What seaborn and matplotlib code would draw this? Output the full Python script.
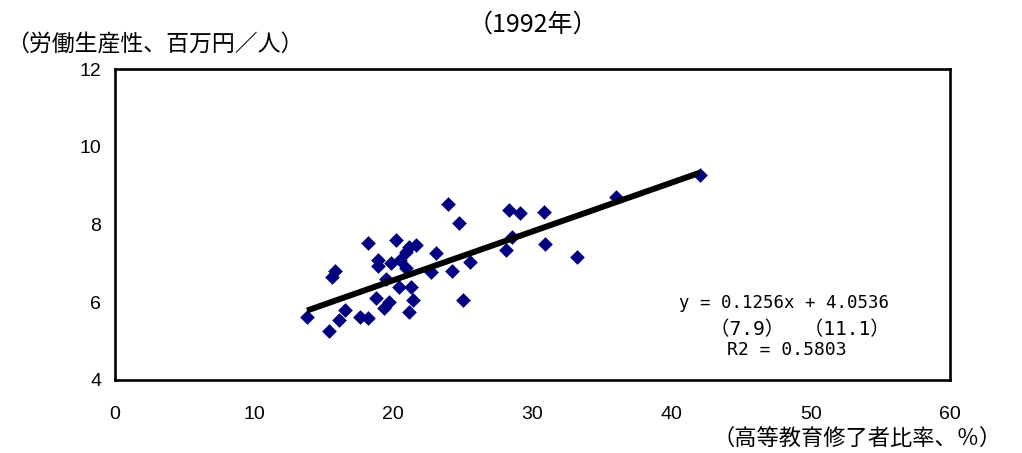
import matplotlib
matplotlib.use("Agg")
import matplotlib.pyplot as plt
from matplotlib import font_manager
import numpy as np
import pandas as pd
import seaborn as sns

# Share of workers with higher education (%) and labour productivity (million yen / person), 1992
edu_ratio = [23.9, 24.7, 18.2, 20.2, 21.6, 21.1, 20.9, 23.1, 18.9, 18.9,
             19.8, 20.5, 20.9, 25.5, 24.2, 22.7, 15.8, 15.6, 19.5, 20.4,
             21.3, 21.4, 18.75, 19.7, 19.3, 21.1, 16.5, 16.1, 17.6, 18.2,
             13.8, 15.4, 25.0, 28.3, 29.1, 30.8, 28.5, 28.1, 30.9, 33.2,
             36.0, 42.0]
productivity = [8.52, 8.03, 7.53, 7.60, 7.47, 7.43, 7.30, 7.26, 7.08, 6.93,
                7.00, 7.08, 6.87, 7.04, 6.81, 6.78, 6.81, 6.64, 6.59, 6.40,
                6.38, 6.07, 6.10, 6.01, 5.84, 5.76, 5.80, 5.54, 5.63, 5.59,
                5.63, 5.27, 6.06, 8.37, 8.30, 8.33, 7.67, 7.34, 7.51, 7.17,
                8.70, 9.27]

# Regression results
slope = 0.1256
intercept = 4.0536
t_values = ["7.9", "11.1"]
r_squared = "0.5803"

x_ticks = [0, 10, 20, 30, 40, 50, 60]
y_ticks = [4, 6, 8, 10, 12]

title = "（1992年）"
y_label = "（労働生産性、百万円／人）"
x_label = "（高等教育修了者比率、％）"

sns.set_theme(style="white")
installed = {f.name for f in font_manager.fontManager.ttflist}
num_font = "Liberation Sans Narrow" if "Liberation Sans Narrow" in installed else "Liberation Sans"
plt.rcParams["font.family"] = ["Noto Sans CJK JP", "DejaVu Sans"]
plt.rcParams["text.color"] = "black"
plt.rcParams["xtick.color"] = "black"
plt.rcParams["ytick.color"] = "black"

df = pd.DataFrame({"edu": edu_ratio, "prod": productivity})
x_fit = np.array([min(edu_ratio), max(edu_ratio)])
fit = pd.DataFrame({"edu": x_fit, "prod": slope * x_fit + intercept})

fig = plt.figure(figsize=(10.22, 4.53), dpi=100)
ax = fig.add_axes([115 / 1022, 1 - 380 / 453, 835 / 1022, 311 / 453])

sns.scatterplot(data=df, x="edu", y="prod", marker="D", color="#000080",
                s=56, linewidth=0, ax=ax, zorder=2)
sns.lineplot(data=fit, x="edu", y="prod", color="black", linewidth=4.3,
             solid_capstyle="butt", ax=ax, zorder=3)

ax.set_xlim(0, 60)
ax.set_ylim(4, 12)
ax.set_xticks(x_ticks)
ax.set_yticks(y_ticks)
ax.set_xticklabels([str(v) for v in x_ticks], family=[num_font, "DejaVu Sans"], fontsize=14)
ax.set_yticklabels([str(v) for v in y_ticks], family=[num_font, "DejaVu Sans"], fontsize=14)
ax.tick_params(axis="x", direction="in", length=4, width=1, color="black",
               labelcolor="black", pad=19)
ax.tick_params(axis="y", direction="in", length=4, width=1, color="black",
               labelcolor="black", pad=10)
ax.set_xlabel("")
ax.set_ylabel("")
for side in ax.spines.values():
    side.set_visible(True)
    side.set_color("black")
    side.set_linewidth(1.9)

ax.set_title(title, fontsize=18, pad=27, color="black")
fig.text(6 / 1022, 1 - 45 / 453, y_label, fontsize=16.5, ha="left", va="center")
fig.text(1002 / 1022, 1 - 438 / 453, x_label, fontsize=16, ha="right", va="center")

mono = ["DejaVu Sans Mono", "Noto Sans CJK JP"]
ax.text(48.1, 5.98, f"y = {slope}x + {intercept}", family=mono, fontsize=12.5,
        ha="center", va="center")
ax.text(49.2, 5.29, f"（{t_values[0]}）　（{t_values[1]}）", family=mono, fontsize=14,
        ha="center", va="center")
ax.text(48.3, 4.77, f"R2 = {r_squared}", family=mono, fontsize=13,
        ha="center", va="center")

fig.savefig("out.png", dpi=100, facecolor="white")
